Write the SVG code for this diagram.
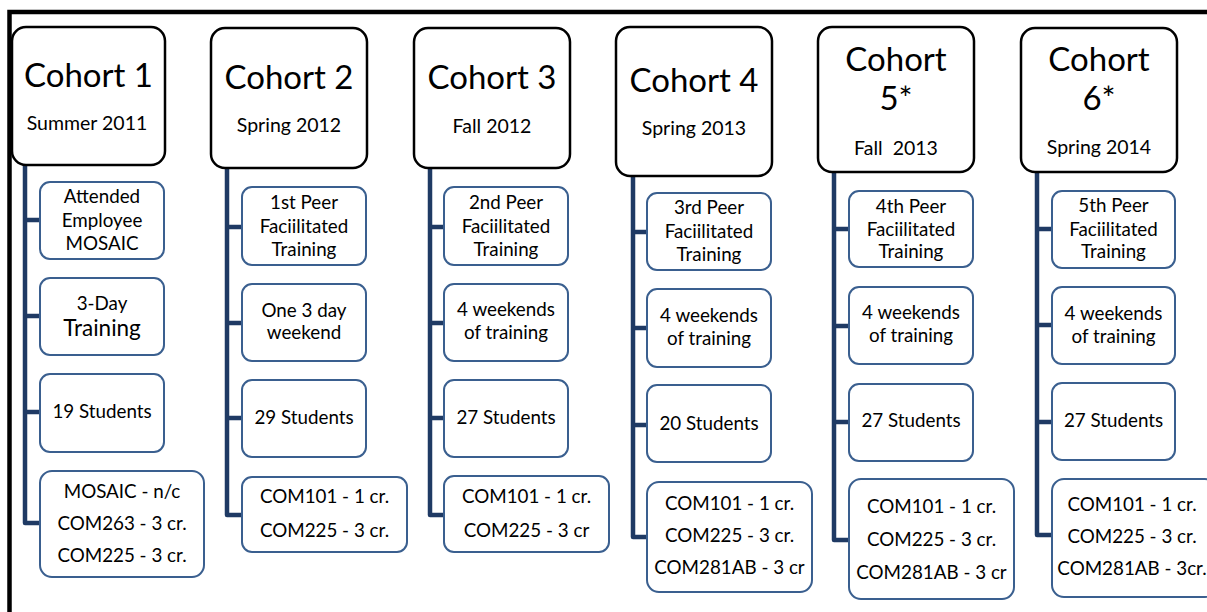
<svg xmlns="http://www.w3.org/2000/svg" width="1207" height="612" viewBox="0 0 1207 612">
  <style>
    .cohort { fill: #ffffff; stroke: #000000; stroke-width: 2.5; }
    .item { fill: #ffffff; stroke: #3A5F8F; stroke-width: 2; }
    .link { fill: none; stroke: #1F3A64; stroke-width: 4.5; stroke-linejoin: round; }
    text { font-family: Lato, "Open Sans", "Liberation Sans", sans-serif; fill: #000000; text-anchor: middle; }
    .title { font-size: 33px; }
    .sub { font-size: 19.5px; }
    .txt { font-size: 18.8px; }
    .txt-lg { font-size: 22.5px; }
  </style>

  <rect x="0" y="0" width="1207" height="612" fill="#ffffff"/>
  <!-- outer frame, top and left edges -->
  <path d="M9.5,612 V12 H1207" fill="none" stroke="#000000" stroke-width="4.5"/>

  <!-- connectors: spine from each cohort box with a branch to each item -->
  <g id="connectors">
    <path class="link" d="M25,165 V523 H40 M25,220 H40 M25,316 H40 M25,412 H40"/>
    <path class="link" d="M227,168 V515 H242 M227,227 H242 M227,323 H242 M227,418 H242"/>
    <path class="link" d="M430,168 V515 H444 M430,227 H444 M430,323 H444 M430,418 H444"/>
    <path class="link" d="M633,176 V537 H647 M633,232 H647 M633,328 H647 M633,425 H647"/>
    <path class="link" d="M834,172 V540 H849 M834,229 H849 M834,326 H849 M834,422 H849"/>
    <path class="link" d="M1037,172 V535 H1052 M1037,229 H1052 M1037,325 H1052 M1037,422 H1052"/>
  </g>

  <!-- Cohort 1 -->
  <g id="cohort1">
    <rect class="cohort" x="12" y="27" width="153" height="138" rx="14"/>
    <text class="title" x="88.5" y="87">Cohort 1</text>
    <text class="sub" x="87" y="130">Summer 2011</text>
  </g>
  <g id="c1-training">
    <rect class="item" x="40" y="182" width="124" height="77" rx="10"/>
    <text class="txt" x="102" y="203">Attended</text>
    <text class="txt" x="102" y="227">Employee</text>
    <text class="txt" x="102" y="250">MOSAIC</text>
  </g>
  <g id="c1-format">
    <rect class="item" x="40" y="278" width="124" height="77" rx="10"/>
    <text class="txt" x="102" y="310">3-Day</text>
    <text class="txt-lg" x="102" y="336">Training</text>
  </g>
  <g id="c1-students">
    <rect class="item" x="40" y="374" width="124" height="78" rx="10"/>
    <text class="txt" x="102" y="418">19 Students</text>
  </g>
  <g id="c1-credits">
    <rect class="item" x="40" y="471" width="164" height="106" rx="12"/>
    <text class="txt" x="122" y="498">MOSAIC - n/c</text>
    <text class="txt" x="122" y="530">COM263 - 3 cr.</text>
    <text class="txt" x="122" y="562">COM225 - 3 cr.</text>
  </g>

  <!-- Cohort 2 -->
  <g id="cohort2">
    <rect class="cohort" x="211" y="28" width="156" height="140" rx="14"/>
    <text class="title" x="289" y="89">Cohort 2</text>
    <text class="sub" x="289" y="132">Spring 2012</text>
  </g>
  <g id="c2-training">
    <rect class="item" x="242" y="187" width="124" height="78" rx="10"/>
    <text class="txt" x="304" y="209">1st Peer</text>
    <text class="txt" x="304" y="233">Faciilitated</text>
    <text class="txt" x="304" y="256">Training</text>
  </g>
  <g id="c2-format">
    <rect class="item" x="242" y="284" width="124" height="77" rx="10"/>
    <text class="txt" x="304" y="317">One 3 day</text>
    <text class="txt" x="304" y="339">weekend</text>
  </g>
  <g id="c2-students">
    <rect class="item" x="242" y="380" width="124" height="77" rx="10"/>
    <text class="txt" x="304" y="424">29 Students</text>
  </g>
  <g id="c2-credits">
    <rect class="item" x="242" y="477" width="165" height="75" rx="10"/>
    <text class="txt" x="324.5" y="503">COM101 - 1 cr.</text>
    <text class="txt" x="324.5" y="537">COM225 - 3 cr.</text>
  </g>

  <!-- Cohort 3 -->
  <g id="cohort3">
    <rect class="cohort" x="414" y="28" width="156" height="140" rx="14"/>
    <text class="title" x="492" y="89">Cohort 3</text>
    <text class="sub" x="492" y="133">Fall 2012</text>
  </g>
  <g id="c3-training">
    <rect class="item" x="444" y="187" width="124" height="78" rx="10"/>
    <text class="txt" x="506" y="209">2nd Peer</text>
    <text class="txt" x="506" y="233">Faciilitated</text>
    <text class="txt" x="506" y="256">Training</text>
  </g>
  <g id="c3-format">
    <rect class="item" x="444" y="284" width="124" height="77" rx="10"/>
    <text class="txt" x="506" y="316">4 weekends</text>
    <text class="txt" x="506" y="339">of training</text>
  </g>
  <g id="c3-students">
    <rect class="item" x="444" y="380" width="124" height="77" rx="10"/>
    <text class="txt" x="506" y="424">27 Students</text>
  </g>
  <g id="c3-credits">
    <rect class="item" x="444" y="476" width="165" height="76" rx="10"/>
    <text class="txt" x="526.5" y="503">COM101 - 1 cr.</text>
    <text class="txt" x="526.5" y="537">COM225 - 3 cr</text>
  </g>

  <!-- Cohort 4 -->
  <g id="cohort4">
    <rect class="cohort" x="616" y="27" width="156" height="149" rx="14"/>
    <text class="title" x="694" y="92">Cohort 4</text>
    <text class="sub" x="694" y="135">Spring 2013</text>
  </g>
  <g id="c4-training">
    <rect class="item" x="647" y="193" width="124" height="77" rx="10"/>
    <text class="txt" x="709" y="214">3rd Peer</text>
    <text class="txt" x="709" y="238">Faciilitated</text>
    <text class="txt" x="709" y="261">Training</text>
  </g>
  <g id="c4-format">
    <rect class="item" x="647" y="289" width="124" height="78" rx="10"/>
    <text class="txt" x="709" y="322">4 weekends</text>
    <text class="txt" x="709" y="345">of training</text>
  </g>
  <g id="c4-students">
    <rect class="item" x="647" y="385" width="124" height="77" rx="10"/>
    <text class="txt" x="709" y="430">20 Students</text>
  </g>
  <g id="c4-credits">
    <rect class="item" x="647" y="482" width="165" height="110" rx="12"/>
    <text class="txt" x="729.5" y="510">COM101 - 1 cr.</text>
    <text class="txt" x="729.5" y="542">COM225 - 3 cr.</text>
    <text class="txt" x="729.5" y="574">COM281AB - 3 cr</text>
  </g>

  <!-- Cohort 5 -->
  <g id="cohort5">
    <rect class="cohort" x="818" y="27" width="156" height="145" rx="14"/>
    <text class="title" x="896" y="71">Cohort</text>
    <text class="title" x="896" y="110">5*</text>
    <text class="sub" x="896" y="155" xml:space="preserve">Fall  2013</text>
  </g>
  <g id="c5-training">
    <rect class="item" x="849" y="191" width="124" height="76" rx="10"/>
    <text class="txt" x="911" y="213">4th Peer</text>
    <text class="txt" x="911" y="236">Faciilitated</text>
    <text class="txt" x="911" y="258">Training</text>
  </g>
  <g id="c5-format">
    <rect class="item" x="849" y="287" width="124" height="77" rx="10"/>
    <text class="txt" x="911" y="319">4 weekends</text>
    <text class="txt" x="911" y="342">of training</text>
  </g>
  <g id="c5-students">
    <rect class="item" x="849" y="384" width="124" height="77" rx="10"/>
    <text class="txt" x="911" y="427">27 Students</text>
  </g>
  <g id="c5-credits">
    <rect class="item" x="849" y="479" width="165" height="120" rx="12"/>
    <text class="txt" x="931.5" y="513">COM101 - 1 cr.</text>
    <text class="txt" x="931.5" y="546">COM225 - 3 cr.</text>
    <text class="txt" x="931.5" y="579">COM281AB - 3 cr</text>
  </g>

  <!-- Cohort 6 -->
  <g id="cohort6">
    <rect class="cohort" x="1021" y="28" width="156" height="144" rx="14"/>
    <text class="title" x="1099" y="71">Cohort</text>
    <text class="title" x="1099" y="110">6*</text>
    <text class="sub" x="1099" y="154">Spring 2014</text>
  </g>
  <g id="c6-training">
    <rect class="item" x="1052" y="191" width="123" height="77" rx="10"/>
    <text class="txt" x="1113.5" y="212">5th Peer</text>
    <text class="txt" x="1113.5" y="236">Faciilitated</text>
    <text class="txt" x="1113.5" y="258">Training</text>
  </g>
  <g id="c6-format">
    <rect class="item" x="1052" y="287" width="123" height="77" rx="10"/>
    <text class="txt" x="1113.5" y="320">4 weekends</text>
    <text class="txt" x="1113.5" y="343">of training</text>
  </g>
  <g id="c6-students">
    <rect class="item" x="1052" y="383" width="123" height="77" rx="10"/>
    <text class="txt" x="1113.5" y="427">27 Students</text>
  </g>
  <g id="c6-credits">
    <rect class="item" x="1052" y="479" width="165" height="118" rx="12"/>
    <text class="txt" x="1132" y="511">COM101 - 1 cr.</text>
    <text class="txt" x="1132" y="543">COM225 - 3 cr.</text>
    <text class="txt" x="1132" y="575">COM281AB - 3cr.</text>
  </g>
</svg>
